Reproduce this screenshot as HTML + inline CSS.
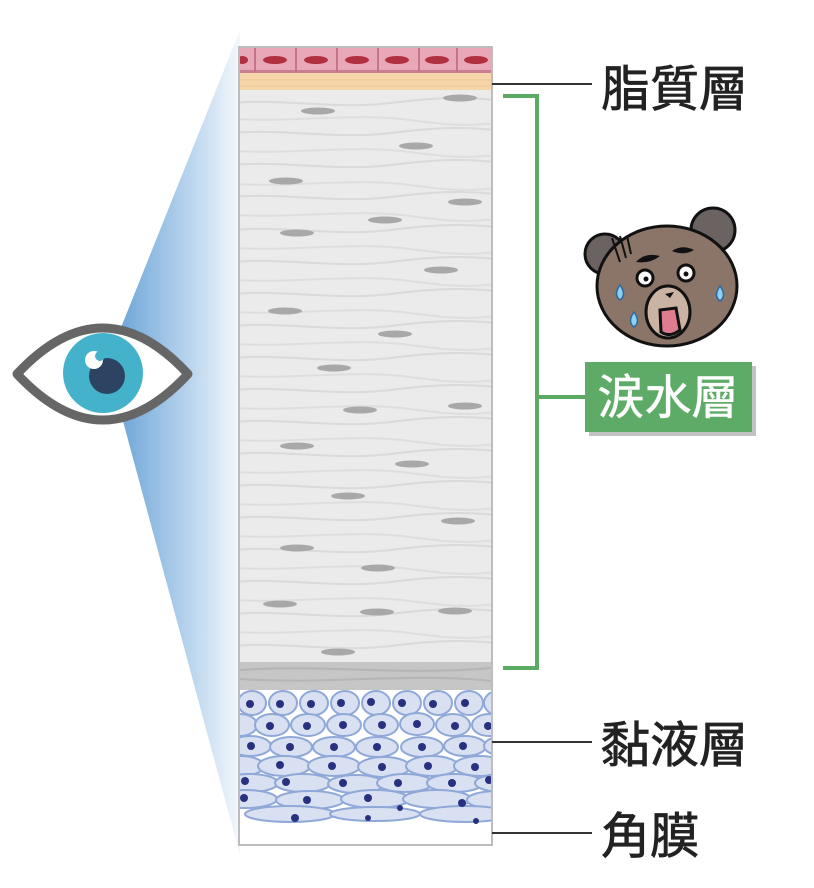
<!DOCTYPE html>
<html><head><meta charset="utf-8"><style>
html,body{margin:0;padding:0;background:#fff;}
svg{display:block}
text{font-family:"Liberation Sans","Noto Sans CJK TC",sans-serif;}
</style></head><body>
<svg width="814" height="888" viewBox="0 0 814 888" xmlns="http://www.w3.org/2000/svg">
<defs>
<linearGradient id="fan" x1="0" x2="1" y1="0" y2="0">
<stop offset="0" stop-color="#6fa6d8"/><stop offset="0.6" stop-color="#bcd6ee"/><stop offset="1" stop-color="#f4f8fc"/>
</linearGradient>
<clipPath id="col"><rect x="240" y="48" width="252" height="797"/></clipPath>
<path id="w1" d="M-20 0 C40 -7 90 6 150 -1 S230 -8 300 1" fill="none" stroke="#dadada" stroke-width="2"/>
<path id="w2" d="M-20 0 C50 6 110 -6 170 2 S240 8 300 -2" fill="none" stroke="#dedede" stroke-width="2"/>
<ellipse id="n" cx="0" cy="0" rx="17" ry="3.5" fill="#a8a8a8"/>
</defs>

<polygon points="240,30 120,330 120,410 240,855" fill="url(#fan)"/>

<rect x="239" y="47" width="253" height="798" fill="#fff" stroke="#bdbdbd" stroke-width="2"/>
<g clip-path="url(#col)">
<rect x="240" y="90" width="252" height="574" fill="#ebebeb"/>
<g>
<use href="#w1" x="240" y="104"/><use href="#w2" x="240" y="118"/><use href="#w1" x="240" y="134"/><use href="#w2" x="240" y="150"/>
<use href="#w1" x="240" y="166"/><use href="#w2" x="240" y="183"/><use href="#w1" x="240" y="198"/><use href="#w2" x="240" y="214"/>
<use href="#w1" x="240" y="231"/><use href="#w2" x="240" y="247"/><use href="#w1" x="240" y="263"/><use href="#w2" x="240" y="279"/>
<use href="#w1" x="240" y="295"/><use href="#w2" x="240" y="311"/><use href="#w1" x="240" y="327"/><use href="#w2" x="240" y="343"/>
<use href="#w1" x="240" y="359"/><use href="#w2" x="240" y="375"/><use href="#w1" x="240" y="391"/><use href="#w2" x="240" y="407"/>
<use href="#w1" x="240" y="423"/><use href="#w2" x="240" y="439"/><use href="#w1" x="240" y="455"/><use href="#w2" x="240" y="471"/>
<use href="#w1" x="240" y="487"/><use href="#w2" x="240" y="503"/><use href="#w1" x="240" y="519"/><use href="#w2" x="240" y="535"/>
<use href="#w1" x="240" y="551"/><use href="#w2" x="240" y="567"/><use href="#w1" x="240" y="583"/><use href="#w2" x="240" y="599"/>
<use href="#w1" x="240" y="615"/><use href="#w2" x="240" y="631"/><use href="#w1" x="240" y="647"/>
</g>
<g>
<use href="#n" x="318" y="111"/><use href="#n" x="460" y="98"/><use href="#n" x="416" y="146"/><use href="#n" x="286" y="181"/>
<use href="#n" x="465" y="202"/><use href="#n" x="385" y="220"/><use href="#n" x="297" y="233"/><use href="#n" x="441" y="270"/>
<use href="#n" x="285" y="311"/><use href="#n" x="395" y="334"/><use href="#n" x="334" y="368"/><use href="#n" x="465" y="406"/>
<use href="#n" x="360" y="410"/><use href="#n" x="297" y="446"/><use href="#n" x="412" y="464"/><use href="#n" x="348" y="496"/>
<use href="#n" x="458" y="521"/><use href="#n" x="297" y="548"/><use href="#n" x="378" y="568"/><use href="#n" x="280" y="604"/>
<use href="#n" x="377" y="612"/><use href="#n" x="455" y="611"/><use href="#n" x="338" y="652"/>
</g>
<rect x="240" y="662" width="252" height="28" fill="#c6c6c6"/>
<path d="M240 670 C320 664 400 676 492 668 M240 679 C330 685 410 672 492 681" stroke="#b5b5b5" stroke-width="2" fill="none"/>
<rect x="240" y="48" width="252" height="25" fill="#e9a8b8"/>
<rect x="240" y="70" width="252" height="3" fill="#c97d90"/>
<g stroke="#c47589" stroke-width="2">
<line x1="255" y1="48" x2="255" y2="72"/><line x1="296" y1="48" x2="296" y2="72"/><line x1="337" y1="48" x2="337" y2="72"/><line x1="378" y1="48" x2="378" y2="72"/><line x1="419" y1="48" x2="419" y2="72"/><line x1="457" y1="48" x2="457" y2="72"/>
</g>
<g fill="#b03040">
<ellipse cx="242" cy="60" rx="6" ry="4"/><ellipse cx="275" cy="60" rx="12" ry="4"/><ellipse cx="316" cy="60" rx="12" ry="4"/><ellipse cx="357" cy="60" rx="12" ry="4"/><ellipse cx="397" cy="60" rx="12" ry="4"/><ellipse cx="437" cy="60" rx="12" ry="4"/><ellipse cx="476" cy="60" rx="12" ry="4"/>
</g>
<rect x="240" y="73" width="252" height="17" fill="#f5d5a9"/>
<path d="M240 80 H492 M240 86 H492" stroke="#ecc896" stroke-width="1"/>
<g fill="#d8e0f2" stroke="#8fa8d8" stroke-width="2">
<g><ellipse cx="252" cy="703" rx="14" ry="12"/><ellipse cx="283" cy="703" rx="14" ry="12"/><ellipse cx="314" cy="703" rx="14" ry="12"/><ellipse cx="345" cy="703" rx="14" ry="12"/><ellipse cx="376" cy="703" rx="14" ry="12"/><ellipse cx="407" cy="703" rx="14" ry="12"/><ellipse cx="438" cy="703" rx="14" ry="12"/><ellipse cx="469" cy="703" rx="14" ry="12"/><ellipse cx="498" cy="703" rx="14" ry="12"/></g>
<g><ellipse cx="240" cy="725" rx="17" ry="11"/><ellipse cx="272" cy="725" rx="17" ry="11"/><ellipse cx="308" cy="725" rx="17" ry="11"/><ellipse cx="344" cy="725" rx="17" ry="11"/><ellipse cx="381" cy="725" rx="17" ry="11"/><ellipse cx="417" cy="724" rx="17" ry="11"/><ellipse cx="453" cy="725" rx="17" ry="11"/><ellipse cx="489" cy="725" rx="17" ry="11"/></g>
<g><ellipse cx="250" cy="746" rx="21" ry="10"/><ellipse cx="291" cy="747" rx="21" ry="10"/><ellipse cx="334" cy="747" rx="21" ry="10"/><ellipse cx="377" cy="747" rx="21" ry="10"/><ellipse cx="422" cy="747" rx="21" ry="10"/><ellipse cx="465" cy="746" rx="21" ry="10"/><ellipse cx="505" cy="746" rx="21" ry="10"/></g>
<g><ellipse cx="240" cy="766" rx="24" ry="10"/><ellipse cx="284" cy="766" rx="26" ry="10"/><ellipse cx="334" cy="766" rx="26" ry="10"/><ellipse cx="384" cy="767" rx="26" ry="10"/><ellipse cx="432" cy="766" rx="26" ry="10"/><ellipse cx="480" cy="766" rx="26" ry="10"/></g>
<g><ellipse cx="250" cy="783" rx="28" ry="9"/><ellipse cx="303" cy="783" rx="28" ry="9"/><ellipse cx="356" cy="784" rx="28" ry="9"/><ellipse cx="405" cy="783" rx="28" ry="9"/><ellipse cx="455" cy="783" rx="28" ry="9"/><ellipse cx="503" cy="783" rx="28" ry="9"/></g>
<g><ellipse cx="245" cy="799" rx="32" ry="9"/><ellipse cx="310" cy="800" rx="34" ry="9"/><ellipse cx="375" cy="799" rx="34" ry="9"/><ellipse cx="437" cy="799" rx="34" ry="9"/><ellipse cx="497" cy="800" rx="30" ry="9"/></g>
<g><ellipse cx="290" cy="814" rx="45" ry="8"/><ellipse cx="375" cy="814" rx="45" ry="7"/><ellipse cx="465" cy="814" rx="45" ry="8"/></g>
</g>
<g fill="#28307f">
<circle cx="250" cy="704" r="4"/><circle cx="280" cy="704" r="4"/><circle cx="311" cy="704" r="4"/><circle cx="341" cy="703" r="4"/><circle cx="371" cy="702" r="4"/><circle cx="402" cy="703" r="4"/><circle cx="433" cy="704" r="4"/><circle cx="465" cy="703" r="4"/>
<circle cx="270" cy="726" r="4"/><circle cx="307" cy="726" r="4"/><circle cx="343" cy="725" r="4"/><circle cx="382" cy="725" r="4"/><circle cx="417" cy="724" r="4"/><circle cx="455" cy="726" r="4"/><circle cx="488" cy="726" r="4"/>
<circle cx="251" cy="746" r="4"/><circle cx="290" cy="747" r="4"/><circle cx="334" cy="747" r="4"/><circle cx="377" cy="747" r="4"/><circle cx="422" cy="747" r="4"/><circle cx="463" cy="746" r="4"/>
<circle cx="280" cy="765" r="4"/><circle cx="332" cy="766" r="4"/><circle cx="382" cy="767" r="4"/><circle cx="428" cy="766" r="4"/><circle cx="475" cy="767" r="4"/>
<circle cx="245" cy="781" r="4"/><circle cx="286" cy="782" r="4"/><circle cx="343" cy="783" r="4"/><circle cx="398" cy="783" r="4"/><circle cx="452" cy="783" r="4"/><circle cx="489" cy="780" r="4"/>
<circle cx="244" cy="798" r="4"/><circle cx="307" cy="800" r="4"/><circle cx="368" cy="798" r="4"/><circle cx="400" cy="808" r="3"/><circle cx="462" cy="803" r="4"/>
<circle cx="295" cy="818" r="4"/><circle cx="368" cy="818" r="3"/><circle cx="476" cy="821" r="3"/>
</g>
</g>
<rect x="239" y="47" width="253" height="798" fill="none" stroke="#bdbdbd" stroke-width="2"/>

<path d="M17 374 Q103 282 188 374 Q103 466 17 374 Z" fill="#fff" stroke="#666" stroke-width="9" stroke-linejoin="round"/>
<circle cx="103" cy="373" r="40" fill="#45b2cc"/>
<circle cx="107" cy="376" r="18" fill="#2c4461"/>
<circle cx="94" cy="360" r="9" fill="#fff"/>
<circle cx="100" cy="356" r="5" fill="#45b2cc"/>

<g stroke="#333" stroke-width="2">
<line x1="492" y1="84" x2="592" y2="84"/>
<line x1="492" y1="742" x2="592" y2="742"/>
<line x1="492" y1="833" x2="592" y2="833"/>
</g>
<g stroke="#5cab62" stroke-width="4" fill="none">
<path d="M503 96 H537 V668 H503"/>
<line x1="537" y1="397" x2="586" y2="397"/>
</g>
<rect x="589" y="366" width="167" height="70" fill="#9a9a9a" opacity="0.6"/>
<rect x="585" y="362" width="167" height="70" fill="#5dab66"/>
<text x="668" y="414" text-anchor="middle" font-size="47" fill="#fff" stroke="#fff" stroke-width="0.6">涙水層</text>

<g fill="#222" font-size="49" stroke="#222" stroke-width="0.8">
<text x="601" y="106">脂質層</text>
<text x="601" y="762">黏液層</text>
<text x="601" y="853">角膜</text>
</g>

<g stroke="#111" stroke-width="3">
<circle cx="605" cy="254" r="20" fill="#6b6361"/>
<circle cx="713" cy="230" r="22" fill="#6b6361"/>
<ellipse cx="667" cy="286" rx="70" ry="60" fill="#8b7468"/>
<ellipse cx="668" cy="312" rx="22" ry="26" fill="#cbb3a4"/>
<path d="M660 310 L676 308 L680 330 Q670 338 661 332 Z" fill="#e07c8f"/>
<circle cx="645" cy="278" r="8" fill="#fff"/>
<circle cx="686" cy="273" r="8" fill="#fff"/>
</g>
<g fill="#111">
<circle cx="646" cy="279" r="2.5"/><circle cx="686" cy="274" r="2.5"/>
<path d="M665 294 L674 292 L670 298 Z"/>
<path d="M636 262 Q645 252 660 256 Q650 264 636 262 Z"/>
<path d="M672 251 Q682 244 694 250 Q684 256 672 251 Z"/>
<path d="M612 238 L620 262 M620 236 L626 258 M627 236 L631 254" stroke="#111" stroke-width="2"/>
</g>
<g fill="#8fd0f0" stroke="#2a6aa0" stroke-width="1.5">
<path d="M620 285 Q613 295 620 300 Q627 295 620 285 Z"/>
<path d="M720 286 Q713 296 720 301 Q727 296 720 286 Z"/>
<path d="M634 312 Q627 322 634 327 Q641 322 634 312 Z"/>
</g>
</svg>
</body></html>
